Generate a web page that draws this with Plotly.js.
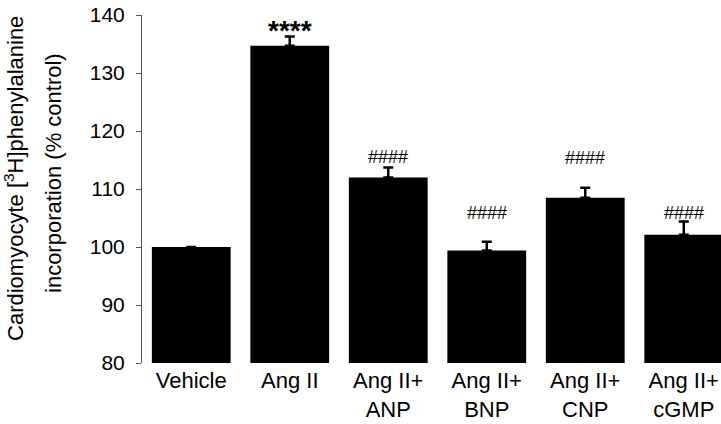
<!DOCTYPE html>
<html>
<head>
<meta charset="utf-8">
<script src="https://cdn.plot.ly/plotly-3.0.1.min.js"></script>
<style>html,body{margin:0;padding:0;background:#fff;}#chart{width:721px;height:424px;}</style>
</head>
<body>
<div id="chart"></div>
<script>
// Data
const categories = ["Vehicle", "Ang II", "Ang II+<br>ANP", "Ang II+<br>BNP", "Ang II+<br>CNP", "Ang II+<br>cGMP"];
const values = [100, 134.7, 112.0, 99.4, 108.5, 102.1];
const errors = [NaN, 1.6, 1.7, 1.5, 1.7, 2.3];
const sigLabels = ["", "****", "####", "####", "####", "####"];
const sigHeights = [null, 137.4, 115.5, 105.8, 115.4, 105.8];
const yTicks = [80, 90, 100, 110, 120, 130, 140];

const FONT = '"Liberation Sans", Arial, Helvetica, sans-serif';

const trace = {
  type: 'bar',
  x: categories,
  y: values,
  marker: {color: '#000000', line: {width: 0}},
  error_y: {
    type: 'data', symmetric: false,
    array: errors, arrayminus: errors.map(() => 0),
    color: '#000000', thickness: 2.5, width: 5
  },
  hoverinfo: 'none'
};

const annotations = [];
sigLabels.forEach((lab, i) => {
  if (!lab) return;
  const isStar = lab.indexOf('*') >= 0;
  annotations.push({
    x: categories[i], y: sigHeights[i], xref: 'x', yref: 'y',
    text: isStar ? '<b>' + lab + '</b>' : lab,
    showarrow: false, xanchor: 'center', yanchor: 'middle',
    font: {family: FONT, size: isStar ? 28 : 18, color: '#000'}
  });
});
annotations.push({
  x: -0.221, y: 0.529, xref: 'paper', yref: 'paper', textangle: -90,
  text: 'Cardiomyocyte [<sup>3</sup>H]phenylalanine', showarrow: false,
  xanchor: 'center', yanchor: 'middle',
  font: {family: FONT, size: 22, color: '#000'}
});
annotations.push({
  x: -0.152, y: 0.546, xref: 'paper', yref: 'paper', textangle: -90,
  text: 'incorporation (% control)', showarrow: false,
  xanchor: 'center', yanchor: 'middle',
  font: {family: FONT, size: 22, color: '#000'}
});

const layout = {
  width: 721, height: 424,
  margin: {l: 142, r: 0, t: 15, b: 61, pad: 0},
  paper_bgcolor: '#fff', plot_bgcolor: '#fff',
  showlegend: false,
  bargap: 0.2,
  font: {family: FONT, color: '#000'},
  xaxis: {
    type: 'category', range: [-0.5, 5.378],
    showline: false, ticks: '', showgrid: false, zeroline: false,
    tickfont: {family: FONT, size: 22, color: '#000'},
    ticklabelstandoff: 2,
    fixedrange: true
  },
  yaxis: {
    range: [80, 140], tickvals: yTicks, ticktext: yTicks.map(String),
    showline: true, linecolor: '#555', linewidth: 1,
    ticks: 'outside', ticklen: 5, tickcolor: '#555', tickwidth: 1,
    showgrid: false, zeroline: false,
    tickfont: {family: FONT, size: 21, color: '#000'},
    ticklabelstandoff: 7,
    fixedrange: true
  },
  annotations: annotations
};

Plotly.newPlot('chart', [trace], layout, {displayModeBar: false, staticPlot: true});
</script>
</body>
</html>
